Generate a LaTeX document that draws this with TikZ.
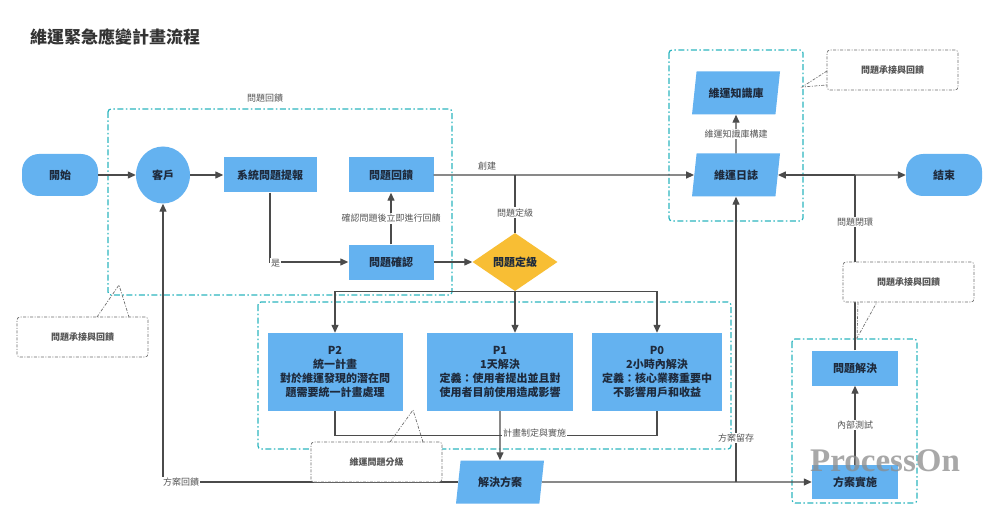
\documentclass[tikz,border=0pt]{standalone}
\usepackage{fontspec}
\setmainfont{Noto Sans CJK TC}
\newfontfamily\wmfont{Liberation Serif}
\usetikzlibrary{shapes.geometric,arrows.meta,calc}
\definecolor{nodeblue}{RGB}{100,178,240}
\definecolor{nodetext}{RGB}{30,42,60}
\definecolor{diayellow}{RGB}{248,190,52}
\definecolor{grpcyan}{RGB}{45,182,192}
\definecolor{linegray}{RGB}{75,75,75}
\definecolor{lblgray}{RGB}{85,85,85}
\definecolor{cogray}{RGB}{110,110,110}
\begin{document}
\begin{tikzpicture}[x=1pt,y=-1pt,
  proc/.style={rectangle, fill=nodeblue, text=nodetext, font=\bfseries\fontsize{11}{13}\selectfont,
    minimum width=86pt, minimum height=35pt, inner sep=1pt, align=center},
  pill/.style={proc, rounded corners=17pt, minimum width=76pt, minimum height=42pt},
  custnode/.style={ellipse, fill=nodeblue, text=nodetext, font=\bfseries\fontsize{11}{13}\selectfont,
    minimum width=54pt, minimum height=57pt, inner sep=0pt},
  para/.style={trapezium, trapezium left angle=70, trapezium right angle=110, trapezium stretches body,
    fill=nodeblue, text=nodetext, font=\bfseries\fontsize{11}{13}\selectfont,
    minimum width=88pt, minimum height=43pt, inner sep=1pt},
  dia/.style={diamond, aspect=1.5, fill=diayellow, text=nodetext, font=\bfseries\fontsize{11}{13}\selectfont,
    minimum width=85pt, minimum height=58pt, inner sep=0pt},
  pbox/.style={rectangle, fill=nodeblue, text=nodetext, font=\bfseries\fontsize{11}{14}\selectfont,
    minimum height=78pt, inner sep=1pt, align=center},
  line/.style={draw=linegray, line width=1.3pt},
  arr/.style={line, -{Triangle[length=8pt,width=7pt]}},
  lbl/.style={fill=white, text=lblgray, font=\fontsize{9}{10}\selectfont, inner sep=1pt},
  grp/.style={draw=grpcyan, line width=1.2pt, rounded corners=3pt, dash pattern=on 6pt off 2.5pt on 1.5pt off 2.5pt},
  callout/.style={draw=cogray, line width=0.7pt, rounded corners=3pt, fill=white,
    dash pattern=on 3pt off 1.5pt on 1pt off 1.5pt, text=lblgray,
    font=\bfseries\fontsize{9}{10}\selectfont, minimum width=131pt, minimum height=40pt},
  ptr/.style={draw=cogray, line width=0.7pt, dash pattern=on 3pt off 1.5pt on 1pt off 1.5pt}
]
\useasboundingbox[fill=white] (0,0) rectangle (1000,521);

% title
\node[anchor=west, font=\bfseries\fontsize{17}{19}\selectfont, text=black!80, inner sep=0pt] (title) at (30,37) {維運緊急應變計畫流程};

% group boxes
\draw[grp] (108,109) rectangle (452,295);
\node[text=lblgray, font=\fontsize{9}{10}\selectfont] (g1lbl) at (265,98) {問題回饋};
\draw[grp] (669,50) rectangle (803,221);
\draw[grp] (792,339) rectangle (917,503);
\draw[grp] (258,302) rectangle (731,449);

% nodes
\node[pill] (start) at (60,175) {開始};
\node[custnode] (cust) at (163,175) {客戶};
\node[proc, minimum width=93pt] (rep) at (270,175) {系統問題提報};
\node[proc, minimum width=85pt] (fb) at (391,175) {問題回饋};
\node[proc, minimum width=85pt] (conf) at (391,262) {問題確認};
\node[dia] (lvl) at (515,262) {問題定級};
\node[para] (log) at (736,175) {維運日誌};
\node[para] (kb) at (736,93) {維運知識庫};
\node[pill] (end) at (944,175) {結束};
\node[proc, minimum width=86pt] (solve) at (855,368) {問題解決};
\node[proc, minimum width=86pt, minimum height=34pt] (impl) at (855,482) {方案實施};
\node[pbox, minimum width=135pt] (p2) at (335,372) {P2\\統一計畫\\對於維運發現的潛在問\\題需要統一計畫處理};
\node[pbox, minimum width=146pt] (p1) at (500,372) {P1\\1天解決\\定義：使用者提出並且對\\使用者目前使用造成影響};
\node[pbox, minimum width=130pt] (p0) at (657,372) {P0\\2小時內解決\\定義：核心業務重要中\\不影響用戶和收益};
\node[para] (sol) at (500,482) {解決方案};

% connectors
\draw[arr] (start.east) -- (cust.west);
\draw[arr] (cust.east) -- (rep.west);
\draw[arr] (rep.south) |- (conf.west);
\node[lbl, anchor=west] (yes) at (270,263) {是};
\draw[arr] (conf.north) -- (fb.south) node[midway, lbl] {確認問題後立即進行回饋};
\draw[arr] (conf.east) -- (lvl.west);
\draw[arr] (fb.east) -- (log.west) node[pos=0.205, above=3pt, text=lblgray, font=\fontsize{9}{10}\selectfont, inner sep=1pt] {創建};
\draw[line] (lvl.north) -- (lvl.north |- log.west) node[pos=0.35, lbl] {問題定級};
\draw[arr] (log.north) -- (kb.south) node[midway, lbl] {維運知識庫構建};
\draw[line] (solve.north) -- (solve.north |- log.east) coordinate (jr) node[pos=0.73, lbl] {問題閉環};
\draw[arr] (jr) -- (log.east);
\draw[arr] (jr) -- (end.west);

\draw[arr] (lvl.south) -| (p2.north);
\draw[arr] (lvl.south) -| (p0.north);
\draw[arr] (lvl.south) -- (lvl.south |- p1.north);

\coordinate (mb) at ($(p1.south)+(0,24)$);
\draw[line] (p2.south) |- (mb);
\draw[line] (p0.south) |- (mb);
\draw[arr] (p1.south) -- (sol.north);
\node[lbl, anchor=west] (plan) at (502,433) {計畫制定與實施};

\draw[arr] (sol.east) -- (impl.west);
\coordinate (js) at (log.south |- impl.west);
\draw[arr] (js) -- (log.south) node[pos=0.155, lbl] {方案留存};
\draw[arr] (sol.west) -| (cust.south);
\node[lbl, anchor=west] (back) at (162,482) {方案回饋};
\draw[arr] (impl.north) -- (solve.south) node[midway, lbl] {內部測試};

% callouts
\node[callout] (c1) at (82.5,337) {問題承接與回饋};
\draw[ptr] (97,317) -- (119,285) -- (129,317);
\node[callout] (c2) at (892.5,70) {問題承接與回饋};
\draw[ptr] (827,71) -- (802,87) -- (827,85);
\node[callout] (c3) at (908.5,282) {問題承接與回饋};
\draw[ptr] (858,302) -- (857,338) -- (877,302);
\node[callout] (c4) at (376.5,462) {維運問題分級};
\draw[ptr] (390,442) -- (413,410) -- (423,442);

% watermark
\node[text=black!45, opacity=0.75, font=\wmfont\bfseries\fontsize{33}{35}\selectfont, inner sep=0pt] (wm) at (885,461) {ProcessOn};
\end{tikzpicture}
\end{document}
